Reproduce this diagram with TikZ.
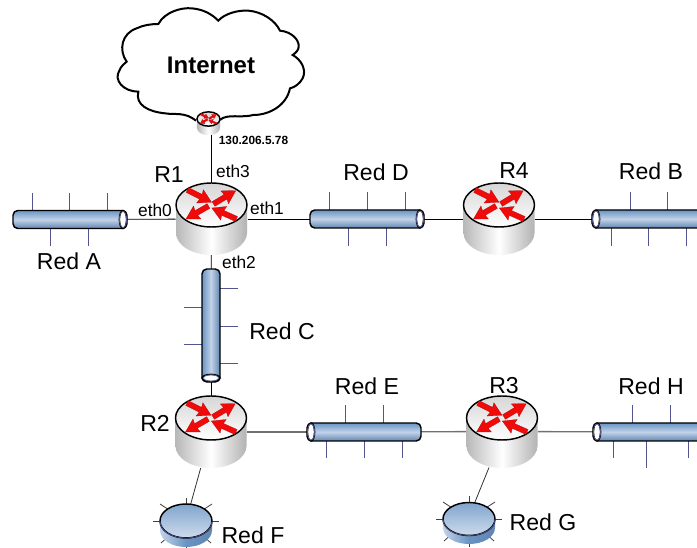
\documentclass[tikz,border=0pt]{standalone}
\usepackage{fontspec}
\setmainfont{Liberation Sans}
\definecolor{busdark}{HTML}{6A94C4}
\definecolor{buslight}{HTML}{C2D3E8}
\definecolor{tickblue}{HTML}{53558F}
\definecolor{linegray}{HTML}{707070}
\definecolor{routerred}{HTML}{F00A0A}
\def\px{0.75pt}
\tikzset{
  x=0.75pt,y=-0.75pt,
  holder/.style={inner sep=0pt,outer sep=0pt,rectangle},
  routerbox/.style={holder,minimum width=72*\px,minimum height=72*\px},
  hbusbox/.style={holder,minimum width=114*\px,minimum height=18*\px},
  vbusbox/.style={holder,minimum width=18*\px,minimum height=113*\px},
  diskbox/.style={holder,minimum width=52*\px,minimum height=43*\px},
  wire/.style={black,line width=0.6pt},
  graywire/.style={linegray,line width=1pt},
  thinwire/.style={black!80,line width=0.6pt},
  tick/.style={tickblue,line width=0.7pt},
  disktick/.style={black!75,line width=0.6pt},
  outline/.style={black,line width=1.1pt},
  redlabel/.style={font=\fontsize{17.3}{20}\selectfont,inner sep=0pt},
  ethlabel/.style={font=\fontsize{13}{15}\selectfont,inner sep=0pt},
  iplabel/.style={font=\fontsize{8.9}{10}\selectfont\bfseries,inner sep=0pt},
  cloudlabel/.style={font=\fontsize{18}{20}\selectfont\bfseries,inner sep=0pt},
  redarrow/.style={fill=routerred,draw=routerred!70!black,line width=0.15pt},
}
% one red arrow pointing along +x, length #4
\newcommand{\onearrow}[4]{%
  \path[redarrow,shift={(#1,#2)},rotate=#3]
    (0,-2.7) -- (#4-12,-2.7) -- (#4-13,-7.5) -- (#4,0) -- (#4-13,7.5) -- (#4-12,2.7) -- (0,2.7) -- cycle;}
% router: #1 cx, #2 y of top ellipse centre, #3 scale
\newcommand{\routerpic}[3]{%
  \begin{scope}[shift={(#1,#2)},scale=#3]
    \path[outline,left color=black!28,right color=black!30,middle color=white]
      (-35.5,0) -- (-35.5,28)
      .. controls (-35.5,40) and (-19.6,50) .. (0,50)
      .. controls (19.6,50) and (35.5,40) .. (35.5,28) -- (35.5,0) -- cycle;
    \draw[outline,top color=black!16,bottom color=white] (0,0) ellipse [x radius=35.5,y radius=22];
    \onearrow{-24}{-15}{-27}{27}
    \onearrow{2}{-1}{31}{26}
    \onearrow{-3}{1}{210}{26}
    \onearrow{25}{14}{156}{27}
  \end{scope}}
% horizontal bus: #1 x0, #2 x1, #3 yc, #4 x of open end ellipse
\newcommand{\hbuspic}[4]{%
  \draw[outline,rounded corners=3.6pt,top color=busdark,bottom color=busdark!90!black,middle color=buslight]
    (#1,#3-9) rectangle (#2,#3+9);
  \draw[outline,fill=white] (#4,#3) ellipse [x radius=3.6,y radius=9];
  \draw[tickblue,line width=0.6pt] (#4,#3) ellipse [x radius=3.6,y radius=8];}
% disk: #1 cx, #2 cy, #3 ry, #4 height
\newcommand{\diskpic}[4]{%
  \begin{scope}[shift={(#1,#2)}]
    \foreach \tx/\ty in {33/0,-33/0,26/-17,-26/-17,0/-23,25/22,-25/22,0/28}
      \draw[disktick] (0,0) -- (\tx,\ty);
    \path[outline,left color=buslight,right color=busdark!90!black,middle color=busdark]
      (-26,0) -- (-26,#4)
      .. controls (-26,#4+#3*0.6) and (-14,#4+#3) .. (0,#4+#3)
      .. controls (14,#4+#3) and (26,#4+#3*0.6) .. (26,#4) -- (26,0) -- cycle;
    \draw[outline,top color=busdark!85,bottom color=buslight!80] (0,0) ellipse [x radius=26,y radius=#3];
    \draw[tickblue,line width=0.5pt] (-26,0) .. controls (-26,#3*0.6) and (-14,#3) .. (0,#3)
      .. controls (14,#3) and (26,#3*0.6) .. (26,0);
  \end{scope}}
\begin{document}
\begin{tikzpicture}
\useasboundingbox (0,0) rectangle (697,548);
\clip (0,0) rectangle (697,548);
\fill[white] (0,0) rectangle (697,548);

% layout holders
\node[routerbox] (r1) at (211.5,219) {};
\node[routerbox] (r2) at (211,432) {};
\node[routerbox] (r3) at (502,431.5) {};
\node[routerbox] (r4) at (499,219) {};
\node[holder,minimum width=23*\px,minimum height=23*\px] (rs) at (208.5,123.5) {};
\node[hbusbox] (redA) at (70,219.5) {};
\node[hbusbox] (redD) at (367,219) {};
\node[hbusbox] (redB) at (649,219) {};
\node[hbusbox] (redE) at (364,432) {};
\node[hbusbox] (redH) at (650,432) {};
\node[vbusbox] (redC) at (211,325.5) {};
\node[diskbox] (diskF) at (186,525.5) {};
\node[diskbox] (diskG) at (469,523.5) {};

% connectors
\draw[wire] (r1|-rs.south) -- (r1.north);
\draw[wire] (redA) -- (r1);
\draw[wire] (r1) -- (redD);
\draw[wire] (redD) -- (r4);
\draw[wire] (r4) -- (redB);
\draw[wire] (r1) -- (redC);
\draw[wire] (redC) -- (r2);
\draw[graywire] (r2) -- (redE);
\draw[graywire] (redE) -- (r3);
\draw[graywire] (r3) -- (redH);
\draw[thinwire] ([xshift=-10.3*\px]r2.south) -- ([xshift=4.7*\px]diskF.north);
\draw[thinwire] ([xshift=-13*\px]r3.south) -- ([xshift=6*\px]diskG.north);

% cloud
\begin{scope}[shift={(110,0)},scale=1/3]
\draw[black,line width=1.5pt,fill=white]
  (258,362) .. controls (225,335) and (195,345) .. (165,340)
  .. controls (115,335) and (75,315) .. (85,275)
  .. controls (40,275) and (10,240) .. (28,212)
  .. controls (32,200) and (42,192) .. (50,185)
  .. controls (25,150) and (35,100) .. (80,85)
  .. controls (100,75) and (125,72) .. (145,72)
  .. controls (165,35) and (215,22) .. (245,25)
  .. controls (280,28) and (305,42) .. (325,62)
  .. controls (345,40) and (385,30) .. (415,32)
  .. controls (455,35) and (495,60) .. (510,92)
  .. controls (545,95) and (568,120) .. (566,140)
  .. controls (566,150) and (558,158) .. (548,165)
  .. controls (575,180) and (590,210) .. (578,235)
  .. controls (570,250) and (555,262) .. (540,265)
  .. controls (530,315) and (480,345) .. (430,345)
  .. controls (395,355) and (350,340) .. (330,360);
\end{scope}

% small router
\routerpic{208.5}{119}{0.325}

% buses
\foreach \tx in {32,69,107} \draw[tick] (\tx,193) -- (\tx,212);
\foreach \tx in {50.5,88} \draw[tick] (\tx,227) -- (\tx,246);
\hbuspic{13}{127}{219.5}{123}
\foreach \tx in {329,367,405} \draw[tick] (\tx,192) -- (\tx,212);
\foreach \tx in {348,386} \draw[tick] (\tx,226) -- (\tx,246);
\hbuspic{310}{424}{219}{420}
\foreach \tx in {630,667} \draw[tick] (\tx,192) -- (\tx,212);
\foreach \tx in {611,648,686} \draw[tick] (\tx,226) -- (\tx,246);
\hbuspic{592}{720}{219}{596}
\foreach \tx in {345,383} \draw[tick] (\tx,405) -- (\tx,425);
\foreach \tx in {326,364,402} \draw[tick] (\tx,439) -- (\tx,458);
\hbuspic{307}{421}{432}{311}
\foreach \tx in {632,670} \draw[tick] (\tx,405) -- (\tx,425);
\foreach \tx in {613,688} \draw[tick] (\tx,439) -- (\tx,458);
\draw[tick] (646,439) -- (646,468);
\hbuspic{593}{720}{432}{597}

% vertical bus
\foreach \ty in {288,326,363} \draw[tick] (218,\ty) -- (238,\ty);
\foreach \ty in {307,344} \draw[tick] (184,\ty) -- (204,\ty);
\draw[outline,rounded corners=3.6pt,left color=busdark,right color=busdark!90!black,middle color=buslight]
  (202,269) rectangle (220,382);
\draw[outline,fill=white] (211,378) ellipse [x radius=9,y radius=3.6];
\draw[tickblue,line width=0.6pt] (211,378) ellipse [x radius=7.5,y radius=3.2];

% routers
\routerpic{211.5}{205}{1}
\routerpic{211}{418}{1}
\routerpic{502}{418}{1}
\routerpic{499}{205}{1}

% disks
\diskpic{186}{521}{17}{9}
\diskpic{469}{519}{16.5}{8.5}

% labels
\node[cloudlabel] (tInternet) at (211,65) {Internet};
\node[iplabel] (tIP) at (253.5,140) {130.206.5.78};
\node[redlabel] (tR1) at (169,175) {R1};
\node[redlabel] (tR2) at (155,423) {R2};
\node[redlabel] (tR3) at (504,386) {R3};
\node[redlabel] (tR4) at (514,171) {R4};
\node[ethlabel] (tE0) at (155,210) {eth0};
\node[ethlabel] (tE1) at (267,208) {eth1};
\node[ethlabel] (tE2) at (239,262) {eth2};
\node[ethlabel] (tE3) at (233,171) {eth3};
\node[redlabel] (tA) at (69,261) {Red A};
\node[redlabel] (tB) at (651,171) {Red B};
\node[redlabel] (tC) at (282,331) {Red C};
\node[redlabel] (tD) at (376,172) {Red D};
\node[redlabel] (tE) at (367,386) {Red E};
\node[redlabel] (tF) at (253,535.5) {Red F};
\node[redlabel] (tG) at (543,522) {Red G};
\node[redlabel] (tH) at (651,386) {Red H};
\end{tikzpicture}
\end{document}
